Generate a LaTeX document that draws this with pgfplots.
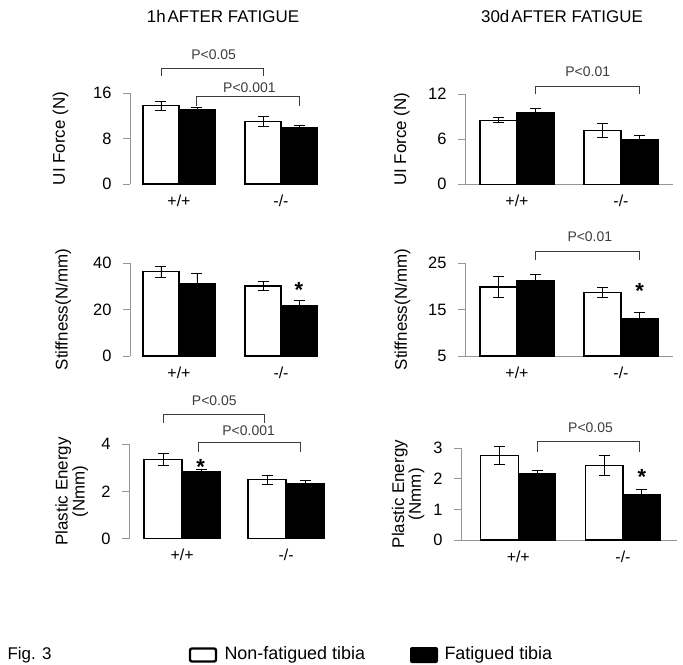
\documentclass[border=0pt]{standalone}
\usepackage{pgfplots}
\pgfplotsset{compat=1.18}
\usepackage{fontspec}
\setmainfont{Liberation Sans}

\definecolor{axgray}{RGB}{150,150,150}
\definecolor{brk}{RGB}{60,60,60}

\newcommand\fs[1]{\fontsize{#1}{#1}\selectfont}

\pgfplotsset{
  fig/.style={
    scale only axis,
    ybar=0pt,
    axis x line*=bottom, axis y line*=left,
    x axis line style={axgray, line width=0.9bp},
    y axis line style={axgray, line width=0.9bp},
    ytick style={axgray, line width=0.9bp},
    xtick style={draw=none},
    tick align=outside, major tick length=7bp,
    xtick={1,2}, xticklabels={+/+,-/-},
    /pgf/number format/assume math mode=true,
    yticklabel style={font=\fs{16.5}, xshift=-8bp},
    xticklabel style={font=\fs{16}, yshift=0bp},
    ylabel style={font=\fs{17}, anchor=center, align=center},
    clip=false,
    error bars/y dir=both, error bars/y explicit,
    error bars/error bar style={black, line width=0.9bp},
    error bars/error mark options={rotate=90, black, line width=0.9bp, mark size=5.5bp},
  },
  nf/.style={draw=black, fill=white, line width=1.2bp},
  ft/.style={draw=black, fill=black, line width=1.2bp},
}

% bracket: x1, x2, y top, y end
\newcommand\brk[4]{\draw[brk, line width=0.9bp] (axis cs:#1,#4) -- (axis cs:#1,#3) -- (axis cs:#2,#3) -- (axis cs:#2,#4);}
\newcommand\plab[3]{\node[font=\fs{14}, text=brk] at (axis cs:#1,#2) {#3};}
\newcommand\sig[2]{\node[font=\fs{22}\bfseries, yshift=-5bp] at (axis cs:#1,#2) {*};}

\begin{document}
\begin{tikzpicture}
\useasboundingbox (0,0) rectangle (683bp,-665bp);

\node[font=\fs{17}] at (223bp,-16bp) {1h\hspace{2bp}AFTER FATIGUE};
\node[font=\fs{17}] at (562bp,-16bp) {30d\hspace{2bp}AFTER FATIGUE};

% UI force, 1h
\begin{axis}[fig, at={(130bp,-184bp)}, anchor=south west,
  width=200bp, height=91bp, xmin=0.52, xmax=2.48, bar width=36bp,
  ymin=0, ymax=16, ytick={0,8,16},
  x axis line style={draw=none},
  ylabel={UI Force (N)}, ylabel style={at={(axis description cs:-0.3475,0.5)}}]
\addplot[nf] coordinates {(1,13.8) +- (0,0.8) (2,11.0) +- (0,0.8)};
\addplot[ft] coordinates {(1,13.1) +- (0,0.3) (2,10.0) +- (0,0.3)};
\brk{0.824}{1.824}{20.3}{19.0}
\plab{1.34}{22.7}{P<0.05}
\brk{1.176}{2.176}{15.47}{13.7}
\plab{1.69}{16.9}{P<0.001}
\end{axis}

% UI force, 30d
\begin{axis}[fig, at={(465bp,-184.3bp)}, anchor=south west,
  width=208bp, height=90.3bp, xmin=0.5, xmax=2.5, bar width=37bp,
  ymin=0, ymax=12, ytick={0,6,12},
  ylabel={UI Force (N)}, ylabel style={at={(axis description cs:-0.304,0.5)}}]
\addplot[nf] coordinates {(1,8.5) +- (0,0.33) (2,7.2) +- (0,0.93)};
\addplot[ft] coordinates {(1,9.56) +- (0,0.58) (2,6.0) +- (0,0.45)};
\brk{1.18}{2.18}{13.05}{11.95}
\plab{1.68}{14.9}{P<0.01}
\end{axis}

% Stiffness, 1h
\begin{axis}[fig, at={(130bp,-356bp)}, anchor=south west,
  width=200bp, height=92.7bp, xmin=0.52, xmax=2.48, bar width=36bp,
  ymin=0, ymax=40, ytick={0,20,40},
  x axis line style={draw=none},
  ylabel={Stiffness(N/mm)}, ylabel style={at={(axis description cs:-0.3335,0.5)}}]
\addplot[nf] coordinates {(1,36.4) +- (0,2.4) (2,30.2) +- (0,2.1)};
\addplot[ft] coordinates {(1,31.2) +- (0,4.5) (2,21.6) +- (0,2.4)};
\sig{2.176}{30.6}
\end{axis}

% Stiffness, 30d
\begin{axis}[fig, at={(465bp,-356bp)}, anchor=south west,
  width=208bp, height=92.7bp, xmin=0.5, xmax=2.5, bar width=37bp,
  ymin=5, ymax=25, ytick={5,15,25}, clip mode=individual,
  ylabel={Stiffness(N/mm)}, ylabel style={at={(axis description cs:-0.30,0.5)}}]
\addplot[nf] coordinates {(1,19.9) +- (0,2.2) (2,18.7) +- (0,1.05)};
\addplot[ft] coordinates {(1,21.35) +- (0,1.2) (2,13.1) +- (0,1.4)};
\brk{1.18}{2.18}{27.6}{25.7}
\plab{1.7}{30.8}{P<0.01}
\sig{2.18}{20.1}
\end{axis}

% Plastic energy, 1h
\begin{axis}[fig, at={(129bp,-538.7bp)}, anchor=south west,
  width=208bp, height=94.7bp, xmin=0.49, xmax=2.49, bar width=38bp,
  ymin=0, ymax=4, ytick={0,2,4},
  x axis line style={draw=none},
  ylabel={Plastic Energy\\(Nmm)}, ylabel style={at={(axis description cs:-0.275,0.5)}}]
\addplot[nf] coordinates {(1,3.33) +- (0,0.25) (2,2.49) +- (0,0.2)};
\addplot[ft] coordinates {(1,2.84) +- (0,0.1) (2,2.31) +- (0,0.14)};
\brk{0.817}{1.79}{5.26}{4.87}
\plab{1.31}{5.81}{P<0.05}
\brk{1.16}{2.14}{4.07}{3.67}
\plab{1.64}{4.56}{P<0.001}
\sig{1.18}{3.25}
\end{axis}

% Plastic energy, 30d
\begin{axis}[fig, at={(461bp,-540bp)}, anchor=south west,
  width=216bp, height=91.7bp, xmin=0.453, xmax=2.516, bar width=37.5bp,
  ymin=0, ymax=3, ytick={0,1,2,3},
  ylabel={Plastic Energy\\(Nmm)}, ylabel style={at={(axis description cs:-0.245,0.5)}}]
\addplot[nf] coordinates {(1,2.77) +- (0,0.29) (2,2.44) +- (0,0.33)};
\addplot[ft] coordinates {(1,2.16) +- (0,0.12) (2,1.5) +- (0,0.17)};
\brk{1.18}{2.156}{3.22}{2.89}
\plab{1.69}{3.69}{P<0.05}
\sig{2.18}{2.235}
\end{axis}

% legend
\node[font=\fs{17}, anchor=west] at (4bp,-655bp) {Fig. 3};
\draw[line width=2.4bp, rounded corners=2bp, fill=white] (190bp,-648.5bp) rectangle (216bp,-661.5bp);
\node[font=\fs{18}, anchor=west] at (221bp,-655bp) {Non-fatigued tibia};
\fill[black, rounded corners=2bp] (410bp,-647bp) rectangle (438bp,-663bp);
\node[font=\fs{18}, anchor=west] at (441bp,-655bp) {Fatigued tibia};
\end{tikzpicture}
\end{document}
